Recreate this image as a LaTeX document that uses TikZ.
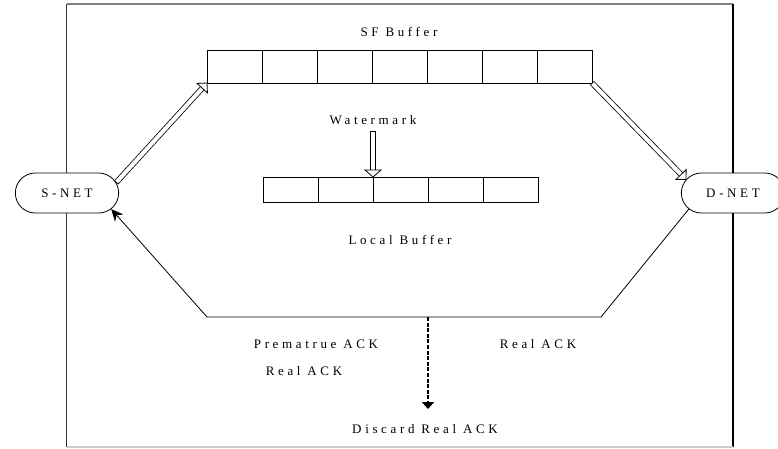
\documentclass[tikz,border=0pt]{standalone}
\usepackage{fontspec}
\setmainfont{Liberation Serif}[LetterSpace=28]
\usetikzlibrary{arrows.meta,shapes.misc,calc}

% hollow "double" arrow: outlined shaft plus an open triangular head
\newcommand\hollowarrow[4]{% from, to, shaft width, head half-width
  \coordinate (ha-base) at ($(#2)!7pt!(#1)$);
  \draw[line width=#3, shorten >=6.5pt] (#1) -- (#2);
  \draw[line width=#3-1.6pt, white, shorten >=6pt, shorten <=0.8pt] (#1) -- (#2);
  \filldraw[fill=white, line width=0.8pt, line join=miter]
    (#2) -- ($(ha-base)!#4!90:(#2)$) -- ($(ha-base)!#4!-90:(#2)$) -- cycle;
}

\begin{document}
\begin{tikzpicture}[x=1pt,y=-1pt,
  lbl/.style={font=\fontsize{13}{15}\selectfont, inner sep=0pt},
  cell/.style={draw, minimum width=55pt, minimum height=33pt, inner sep=0pt,
               outer sep=0pt, line width=0.8pt},
  lcell/.style={cell, minimum height=25pt},
  net/.style={draw, fill=white, rounded rectangle, minimum width=110pt,
              minimum height=40pt, line width=0.8pt,
              font=\fontsize{13}{15}\selectfont},
  link/.style={line width=0.8pt},
  ackflow/.style={link, -{Stealth[length=12pt, width=11pt]}},
  discard/.style={line width=1.5pt, dash pattern=on 4pt off 1.6pt,
                  -{Triangle[length=7pt, width=12pt]}},
]
\useasboundingbox (0,0) rectangle (778,448);

% outer frame
\draw[line width=1.3pt, black!50] (66.5,4) -- (733,4);
\draw[line width=1.3pt, black!80] (66.5,4) -- (66.5,447);
\draw[line width=1.3pt, black] (733,4) -- (733,447);
\draw[line width=1.3pt, black!20] (66.5,447) -- (733,447);

% end points
\node[net] (snet) at (67,193) {S-NET};
\node[net] (dnet) at (733,193) {D-NET};

% store-and-forward buffer
\foreach \i in {1,...,7}
  \node[cell] (sf\i) at ({207+55*(\i-0.5)},66.5) {};
\node[lbl] (sflabel) at (399,32) {SF Buffer};

% local buffer
\foreach \i in {1,...,5}
  \node[lcell] (lb\i) at ({263+55*(\i-0.5)},189.5) {};
\node[lbl] (lblabel) at (400,240) {Local Buffer};

% watermark pointer
\node[lbl] (wmlabel) at (373,120) {Watermark};
\coordinate (wmtop) at (373,131);
\hollowarrow{wmtop}{lb2.north east}{6.5pt}{8pt}

% data flow through the SF buffer
\hollowarrow{snet.12}{sf1.south west}{5.6pt}{7pt}
\hollowarrow{sf7.south east}{dnet.164}{5.6pt}{7pt}

% acknowledgement return path
\coordinate (br) at (601,317);
\coordinate (bl) at (207,317);
\draw[ackflow] (dnet.200) -- (br) -- (bl) -- (snet.-20);

% discarded acknowledgements
\coordinate (drop) at (428,317);
\coordinate (dropend) at (428,409);
\draw[discard] (drop) -- (dropend);

\node[lbl] (pack)    at (316,344) {Prematrue ACK};
\node[lbl] (rackl)   at (304,371) {Real ACK};
\node[lbl] (rackr)   at (538,344) {Real ACK};
\node[lbl] (discardl) at (425,429) {Discard Real ACK};
\end{tikzpicture}
\end{document}
